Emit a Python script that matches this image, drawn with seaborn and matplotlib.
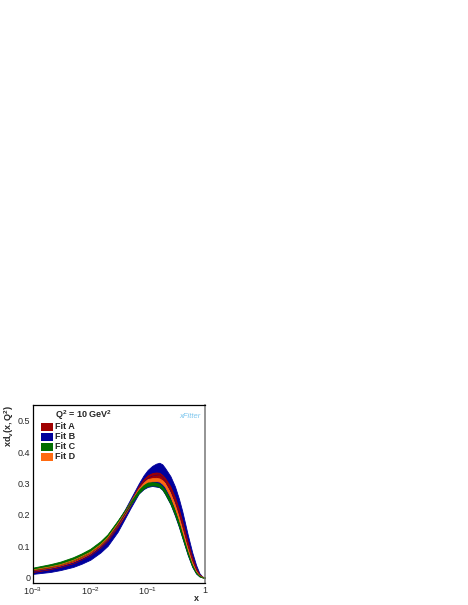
import numpy as np
import pandas as pd
import seaborn as sns
import matplotlib.pyplot as plt
from matplotlib.ticker import LogLocator, MultipleLocator, FixedFormatter, FixedLocator, NullFormatter
from matplotlib.patches import Rectangle

# --- data ---
x = [0.001, 0.002, 0.003, 0.005, 0.007, 0.01, 0.015, 0.02, 0.03, 0.04, 0.05, 0.07, 0.085, 0.1, 0.12,
     0.14, 0.16, 0.18, 0.2, 0.25, 0.3, 0.35, 0.4, 0.5, 0.6, 0.7, 0.8, 0.9, 1.0]

fitB_lo = [0.012, 0.018, 0.024, 0.034, 0.044, 0.057, 0.080, 0.101, 0.146, 0.188, 0.221, 0.268, 0.282, 0.289, 0.292,
           0.290, 0.288, 0.280, 0.267, 0.234, 0.197, 0.162, 0.128, 0.072, 0.034, 0.013, 0.004, 0.001, 0.0]
fitB_hi = [0.026, 0.036, 0.044, 0.058, 0.070, 0.086, 0.111, 0.134, 0.179, 0.217, 0.250, 0.300, 0.326, 0.343, 0.356,
           0.363, 0.366, 0.361, 0.350, 0.323, 0.290, 0.252, 0.213, 0.137, 0.080, 0.040, 0.014, 0.003, 0.0]

fitA_lo = [0.018, 0.027, 0.034, 0.046, 0.058, 0.072, 0.096, 0.118, 0.162, 0.199, 0.231, 0.279, 0.298, 0.310, 0.318,
           0.320, 0.318, 0.311, 0.300, 0.270, 0.235, 0.200, 0.163, 0.100, 0.054, 0.024, 0.008, 0.002, 0.0]
fitA_hi = [0.024, 0.034, 0.041, 0.054, 0.066, 0.080, 0.104, 0.126, 0.171, 0.209, 0.242, 0.292, 0.313, 0.326, 0.333,
           0.335, 0.334, 0.327, 0.318, 0.290, 0.255, 0.218, 0.180, 0.113, 0.063, 0.029, 0.010, 0.002, 0.0]

fitD_lo = [0.022, 0.031, 0.038, 0.051, 0.063, 0.077, 0.101, 0.123, 0.167, 0.203, 0.233, 0.276, 0.293, 0.303, 0.307,
           0.308, 0.306, 0.299, 0.290, 0.257, 0.220, 0.183, 0.148, 0.088, 0.045, 0.019, 0.006, 0.001, 0.0]
fitD_hi = [0.028, 0.038, 0.045, 0.059, 0.071, 0.085, 0.109, 0.131, 0.176, 0.212, 0.243, 0.287, 0.304, 0.314, 0.317,
           0.318, 0.316, 0.310, 0.302, 0.270, 0.233, 0.196, 0.160, 0.097, 0.052, 0.023, 0.008, 0.002, 0.0]

fitC_lo = [0.025, 0.035, 0.043, 0.056, 0.068, 0.083, 0.107, 0.129, 0.172, 0.206, 0.233, 0.269, 0.284, 0.292, 0.294,
           0.293, 0.289, 0.281, 0.268, 0.235, 0.200, 0.165, 0.130, 0.075, 0.036, 0.014, 0.004, 0.001, 0.0]
fitC_hi = [0.032, 0.043, 0.051, 0.065, 0.077, 0.092, 0.116, 0.138, 0.182, 0.215, 0.243, 0.280, 0.295, 0.303, 0.304,
           0.303, 0.299, 0.291, 0.280, 0.248, 0.212, 0.176, 0.140, 0.083, 0.041, 0.017, 0.006, 0.001, 0.0]

fits = ["Fit A", "Fit B", "Fit C", "Fit D"]
colors = {"Fit A": "#a00000", "Fit B": "#00009c", "Fit C": "#006e00", "Fit D": "#ff6a10"}
bands = {"Fit A": (fitA_lo, fitA_hi), "Fit B": (fitB_lo, fitB_hi),
         "Fit C": (fitC_lo, fitC_hi), "Fit D": (fitD_lo, fitD_hi)}
draw_order = ["Fit B", "Fit A", "Fit D", "Fit C"]

sns.set_theme(style="white")
plt.rcParams['font.family'] = ['Liberation Sans', 'DejaVu Sans']
plt.rcParams['mathtext.fontset'] = 'custom'
plt.rcParams['mathtext.rm'] = 'Liberation Sans'
plt.rcParams['mathtext.bf'] = 'Liberation Sans:bold'

fig = plt.figure(figsize=(4.68, 6.05), dpi=100)
ax = fig.add_axes([0.0705, 0.0364, 0.3675, 0.2942])

for f in draw_order:
    lo, hi = bands[f]
    df = pd.DataFrame({"x": x, "lo": lo, "hi": hi})
    ax.fill_between(df["x"], df["lo"], df["hi"], color=colors[f], lw=0.6, ec=colors[f])
    sns.lineplot(x=df["x"], y=(df["lo"] + df["hi"]) / 2, ax=ax, color=colors[f], lw=0.5)

ax.set_xscale("log")
ax.set_xlim(1e-3, 1)
ax.set_ylim(-0.017, 0.55)
ax.set_xlabel("")

ax.xaxis.set_major_locator(FixedLocator([1e-3, 1e-2, 1e-1, 1]))
ax.xaxis.set_major_formatter(FixedFormatter([r"$\mathrm{10^{-3}}$", r"$\mathrm{10^{-2}}$",
                                             r"$\mathrm{10^{-1}}$", "1"]))
ax.xaxis.set_minor_locator(LogLocator(base=10, subs=np.arange(2, 10), numticks=20))
ax.xaxis.set_minor_formatter(NullFormatter())
ax.yaxis.set_major_locator(MultipleLocator(0.1))
ax.yaxis.set_minor_locator(MultipleLocator(0.02))
ax.yaxis.set_major_formatter(plt.FuncFormatter(lambda v, p: "0" if abs(v) < 1e-9 else f"{v:.1f}"))

ax.tick_params(which="both", direction="in", top=False, right=False, labelsize=6.5, pad=2, color="black")
ax.tick_params(which="major", length=4, width=0.7)
ax.tick_params(which="minor", length=2, width=0.6)
for s in ["left", "bottom", "top"]:
    ax.spines[s].set_color("black")
    ax.spines[s].set_linewidth(0.9)
ax.spines["right"].set_color("#777777")
ax.spines["right"].set_linewidth(1.1)

ax.text(0.948, -0.085, "x", transform=ax.transAxes, fontsize=6.5, fontweight="bold",
        ha="center", va="center")
ax.set_ylabel(r"$\mathbf{xd_v(x,Q^2)}$", fontsize=6.5, loc="top", labelpad=1)

# legend, ROOT style
ax.text(0.128, 0.944, r"$\mathbf{Q^2}$ = 10 GeV$\mathbf{^2}$", transform=ax.transAxes,
        fontsize=6.5, fontweight="bold", va="center")
for i, f in enumerate(fits):
    yy = 0.878 - i * 0.056
    ax.add_patch(Rectangle((0.045, yy - 0.022), 0.073, 0.044, transform=ax.transAxes,
                           color=colors[f], ec="none"))
    ax.text(0.128, yy, f, transform=ax.transAxes, fontsize=6.5, fontweight="bold", va="center")

ax.text(0.915, 0.935, "xFitter", transform=ax.transAxes, fontsize=5.5, style="italic",
        color="#7cc6ee", ha="center", va="center")

fig.savefig("out.png", dpi=100)
